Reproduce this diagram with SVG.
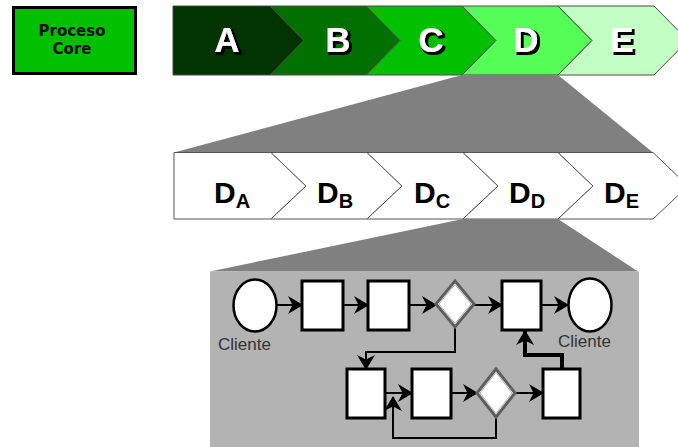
<svg xmlns="http://www.w3.org/2000/svg" width="678" height="447" viewBox="0 0 678 447">
  <style>
    .core { font-family: "DejaVu Sans", "Open Sans", sans-serif; font-weight: bold; font-size: 15px; fill: #111; text-anchor: middle; }
    .big { font-family: "Liberation Sans", Arial, sans-serif; font-weight: bold; font-size: 35px; text-anchor: middle; fill: #fff; filter: url(#shadow); }
    .seg { stroke: #4a4a4a; stroke-width: 1; }
    .sub { stroke: #555; stroke-width: 1; fill: #fff; }
    .dl { font-family: "Liberation Sans", Arial, sans-serif; font-weight: bold; font-size: 30px; fill: #000; }
    .ds { font-size: 20px; }
    .box { fill: #fff; stroke: #000; stroke-width: 3; }
    .gate { fill: #fff; stroke: #5e5e5e; stroke-width: 3; }
    .gate2 { fill: none; stroke: #b0b0b0; stroke-width: 1; }
    .term { fill: #fff; stroke: #000; stroke-width: 2.5; }
    .lbl { font-family: "Liberation Sans", Arial, sans-serif; font-size: 17px; fill: #333; }
    .conn { fill: none; stroke: #000; stroke-width: 2; }
    .thick { stroke-width: 4; }
  </style>
  <defs>
    <marker id="arr" markerUnits="userSpaceOnUse" markerWidth="17" markerHeight="19" refX="14" refY="9" orient="auto">
      <path d="M0,0 L15,9 L0,18 L4.5,9 z" fill="#000"/>
    </marker>
    <filter id="shadow" x="-20%" y="-20%" width="150%" height="150%">
      <feMorphology in="SourceAlpha" operator="dilate" radius="0.6" result="grow"/>
      <feOffset in="grow" dx="2" dy="2" result="off"/>
      <feFlood flood-color="#000"/>
      <feComposite in2="off" operator="in" result="sh"/>
      <feMerge>
        <feMergeNode in="sh"/>
        <feMergeNode in="SourceGraphic"/>
      </feMerge>
    </filter>
  </defs>

  <!-- label box -->
  <g id="proceso-core">
    <rect x="13.5" y="7.5" width="122" height="66" fill="#00c000" stroke="#000" stroke-width="3"/>
    <text class="core" x="72" y="35.5">Proceso</text>
    <text class="core" x="72" y="53.5">Core</text>
  </g>

  <!-- top value chain -->
  <g id="chain-A">
    <polygon class="seg" fill="#003300" points="173,6 270,6 304,40.5 270,75 173,75"/>
    <text class="big" x="227" y="52">A</text>
  </g>
  <g id="chain-B">
    <polygon class="seg" fill="#007000" points="270,6 366,6 400,40.5 366,75 270,75 304,40.5"/>
    <text class="big" x="338" y="52">B</text>
  </g>
  <g id="chain-C">
    <polygon class="seg" fill="#00c000" points="366,6 462,6 496,40.5 462,75 366,75 400,40.5"/>
    <text class="big" x="431" y="52">C</text>
  </g>
  <g id="chain-D">
    <polygon class="seg" fill="#55ff55" points="462,6 558,6 592,40.5 558,75 462,75 496,40.5"/>
    <text class="big" x="526" y="52">D</text>
  </g>
  <g id="chain-E">
    <polygon class="seg" fill="#c2ffc2" points="558,6 654,6 688,40.5 654,75 558,75 592,40.5"/>
    <text class="big" x="622" y="52">E</text>
  </g>

  <!-- zoom wedge D -> sub-chain -->
  <polygon id="zoom-1" points="462,75 558,75 653,152.5 174,152.5" fill="#808080"/>

  <!-- sub-chain of D -->
  <g id="sub-DA">
    <polygon class="sub" points="174,152.5 271,152.5 306,186 271,219 174,219"/>
    <text class="dl" x="214" y="203">D<tspan class="ds" dy="5">A</tspan></text>
  </g>
  <g id="sub-DB">
    <polygon class="sub" points="271,152.5 367,152.5 402,186 367,219 271,219 306,186"/>
    <text class="dl" x="317" y="203">D<tspan class="ds" dy="5">B</tspan></text>
  </g>
  <g id="sub-DC">
    <polygon class="sub" points="367,152.5 463,152.5 498,186 463,219 367,219 402,186"/>
    <text class="dl" x="414" y="203">D<tspan class="ds" dy="5">C</tspan></text>
  </g>
  <g id="sub-DD">
    <polygon class="sub" points="463,152.5 558,152.5 593,186 558,219 463,219 498,186"/>
    <text class="dl" x="509" y="203">D<tspan class="ds" dy="5">D</tspan></text>
  </g>
  <g id="sub-DE">
    <polygon class="sub" points="558,152.5 653,152.5 688,186 653,219 558,219 593,186"/>
    <text class="dl" x="604" y="203">D<tspan class="ds" dy="5">E</tspan></text>
  </g>

  <!-- zoom wedge D_D -> process flow -->
  <polygon id="zoom-2" points="463,219 558,219 638,271.5 210,271.5" fill="#808080"/>
  <rect id="flow-panel" x="210" y="271.5" width="429" height="176" fill="#b3b3b3"/>

  <!-- connectors -->
  <g id="connectors">
    <path class="conn" d="M277,305 H302" marker-end="url(#arr)"/>
    <path class="conn" d="M343,305 H368" marker-end="url(#arr)"/>
    <path class="conn" d="M409,305 H436" marker-end="url(#arr)"/>
    <path class="conn" d="M474,305 H502" marker-end="url(#arr)"/>
    <path class="conn" d="M541,305 H568" marker-end="url(#arr)"/>
    <path class="conn" d="M455,327 V352 H366 V369" marker-end="url(#arr)"/>
    <path class="conn" d="M385,393 H412" marker-end="url(#arr)"/>
    <path class="conn" d="M451,393 H477" marker-end="url(#arr)"/>
    <path class="conn" d="M515,393 H543" marker-end="url(#arr)"/>
    <path class="conn" d="M496,417 V438 H393 V397" marker-end="url(#arr)"/>
    <path class="conn thick" d="M562,369 V355 H525 V331" marker-end="url(#arr)"/>
  </g>

  <!-- process flow nodes -->
  <g id="cliente-in">
    <ellipse class="term" cx="255" cy="305.5" rx="21.5" ry="26"/>
    <text class="lbl" x="218" y="350">Cliente</text>
  </g>
  <g id="task-1"><rect class="box" x="302" y="281" width="41" height="49"/></g>
  <g id="task-2"><rect class="box" x="368" y="281" width="41" height="49"/></g>
  <g id="gate-1">
    <polygon class="gate" points="455,281 474,304 455,327 436,304"/>
    <polygon class="gate2" points="455,284.5 471,304 455,323.5 439,304"/>
  </g>
  <g id="task-3"><rect class="box" x="502" y="281" width="39" height="49"/></g>
  <g id="cliente-out">
    <ellipse class="term" cx="590" cy="305" rx="21.5" ry="26.5"/>
    <text class="lbl" x="558" y="347">Cliente</text>
  </g>
  <g id="task-4"><rect class="box" x="347" y="369" width="38" height="49"/></g>
  <g id="task-5"><rect class="box" x="412" y="369" width="39" height="49"/></g>
  <g id="gate-2">
    <polygon class="gate" points="496,369 515,393 496,417 477,393"/>
    <polygon class="gate2" points="496,372.5 512,393 496,413.5 480,393"/>
  </g>
  <g id="task-6"><rect class="box" x="543" y="369" width="37" height="49"/></g>
</svg>
